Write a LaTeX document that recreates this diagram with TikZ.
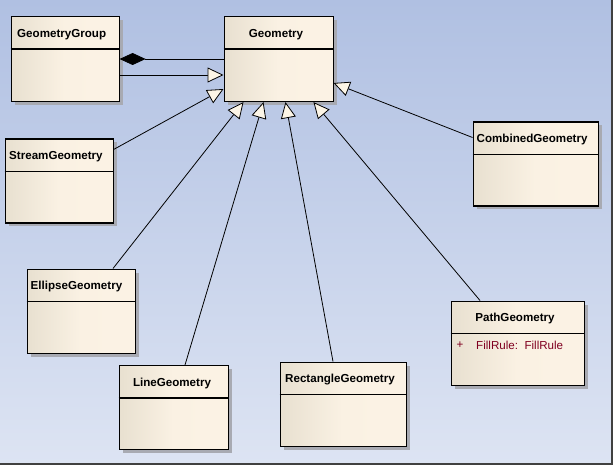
\documentclass[tikz,border=0pt]{standalone}
\usepackage{fontspec}
\setmainfont{Liberation Sans}
\usetikzlibrary{arrows.meta,calc}
\definecolor{bgtop}{RGB}{176,192,226}
\definecolor{bgbot}{RGB}{221,228,243}
\definecolor{boxl}{RGB}{232,224,208}
\definecolor{boxr}{RGB}{251,242,228}
\definecolor{cream}{RGB}{252,245,230}
\definecolor{attr}{RGB}{128,0,32}
\definecolor{shadowc}{RGB}{168,170,178}
\tikzset{
  cls/.style={draw=black, line width=1.1pt, anchor=north west, inner sep=0pt,
    left color=boxl, right color=boxr, middle color=boxr!96!boxl},
  shad/.style={fill=shadowc, draw=none},
  ctitle/.style={font=\fontsize{11.6}{14}\selectfont\bfseries, inner sep=0pt},
  atext/.style={font=\fontsize{11.6}{14}\selectfont, text=attr, inner sep=0pt, anchor=west},
  divider/.style={draw=black, line width=1.1pt},
  gen/.style={draw=black, line width=0.8pt, -{Triangle[length=16pt,width=15pt,fill=cream]}},
  comp/.style={draw=black, line width=0.8pt, {Diamond[length=26pt,width=12pt,fill=black]}-},
}
\newcommand{\umlbox}[5]{% name, x, y, w, h
  \fill[shad] (#2+4,#3+4) rectangle ++(#4,#5);
  \node[cls, minimum width=#4pt, minimum height=#5pt] (#1) at (#2,#3) {};
  \draw[divider] ($(#1.north west)+(0,33)$) -- ($(#1.north east)+(0,33)$);
}
\begin{document}
\begin{tikzpicture}[x=1pt,y=-1pt]
\useasboundingbox (0,0) rectangle (613,465);
\shade[top color=bgtop, bottom color=bgbot] (0,0) rectangle (613,465);
\draw[black!75, line width=2pt] (611.5,0) -- (611.5,463.5) -- (0,463.5);

\umlbox{gg}{10.5}{16}{108}{85}
\umlbox{geo}{223.5}{16}{109}{85}
\umlbox{sg}{4.5}{138.5}{108}{84}
\umlbox{cg}{472.5}{121.5}{125}{84}
\umlbox{eg}{26.5}{268.5}{108}{84}
\umlbox{lg}{118.5}{365}{109}{84}
\umlbox{rg}{279.5}{361.5}{126}{84}
\umlbox{pg}{450.5}{300.5}{133}{84}

\node[ctitle, anchor=west] (ggt) at (17,35) {GeometryGroup};
\node[ctitle] (geot) at (276,35) {Geometry};
\node[ctitle, anchor=west] (sgt) at (9,157) {StreamGeometry};
\node[ctitle, anchor=west] (cgt) at (476.5,140) {CombinedGeometry};
\node[ctitle, anchor=west] (egt) at (30.5,287) {EllipseGeometry};
\node[ctitle] (lgt) at (172,383) {LineGeometry};
\node[ctitle] (rgt) at (340,380) {RectangleGeometry};
\node[ctitle] (pgt) at (515,318) {PathGeometry};
\node[atext] (pga) at (456.5,345) {+};
\node[atext] (pgb) at (476,345) {FillRule:\ \ FillRule};

% connectors
\draw[comp] ($(gg.north east)+(0,43)$) -- ($(geo.north west)+(0,43)$);
\draw[gen] ($(gg.north east)+(0,59)$) -- ($(geo.north west)+(0,59)$);
\draw[gen] ($(sg.north east)+(0,11)$) -- ($(geo.north west)+(0,73)$);
\draw[gen] ($(eg.north west)+(86.5,0)$) -- ($(geo.south west)+(20,0)$);
\draw[gen] ($(lg.north west)+(66.5,0)$) -- ($(geo.south west)+(40,0)$);
\draw[gen] ($(rg.north west)+(53.5,0)$) -- ($(geo.south west)+(62,0)$);
\draw[gen] ($(pg.north west)+(29.5,0)$) -- ($(geo.south west)+(90,0)$);
\draw[gen] ($(cg.north west)+(0,16)$) -- ($(geo.north east)+(0,67)$);
\end{tikzpicture}
\end{document}
